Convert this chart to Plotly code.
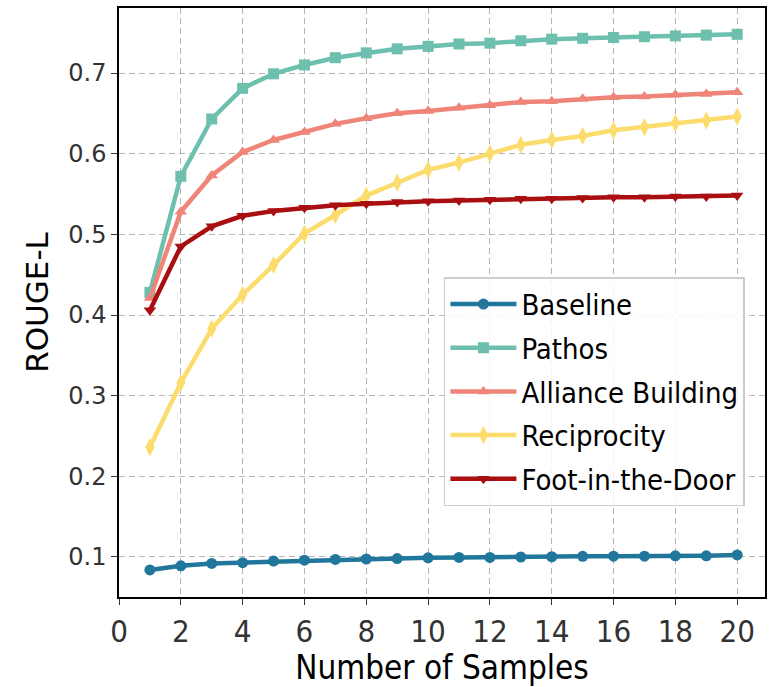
import plotly.graph_objects as go

x_samples = list(range(1, 21))

baseline = [0.084, 0.089, 0.092, 0.093, 0.095, 0.096, 0.097, 0.0975, 0.098, 0.099,
            0.0995, 0.0995, 0.100, 0.1003, 0.1008, 0.101, 0.101, 0.1015, 0.1015, 0.1025]
pathos = [0.428, 0.572, 0.643, 0.681, 0.699, 0.710, 0.719, 0.725, 0.730, 0.733,
          0.736, 0.737, 0.740, 0.742, 0.743, 0.744, 0.745, 0.746, 0.747, 0.748]
alliance = [0.421, 0.528, 0.573, 0.602, 0.617, 0.627, 0.637, 0.644, 0.650, 0.653,
            0.657, 0.660, 0.664, 0.665, 0.668, 0.670, 0.671, 0.673, 0.674, 0.676]
reciprocity = [0.236, 0.316, 0.383, 0.425, 0.462, 0.501, 0.524, 0.548, 0.564, 0.580,
               0.589, 0.600, 0.611, 0.617, 0.622, 0.629, 0.633, 0.638, 0.641, 0.646]
foot = [0.406, 0.485, 0.510, 0.523, 0.529, 0.533, 0.536, 0.538, 0.540, 0.541,
        0.542, 0.543, 0.544, 0.544, 0.545, 0.546, 0.546, 0.547, 0.547, 0.548]

series_names = ["Baseline", "Pathos", "Alliance Building", "Reciprocity", "Foot-in-the-Door"]
series_values = [baseline, pathos, alliance, reciprocity, foot]
colors = ["#21769b", "#6dbfae", "#ef8479", "#fcdc6d", "#a90f10"]
symbols = ["circle", "square", "triangle-up", "diamond-tall", "triangle-down"]
x_ticks = list(range(0, 21, 2))
y_ticks = [0.1, 0.2, 0.3, 0.4, 0.5, 0.6, 0.7]

COND = "DejaVu Sans Condensed, Liberation Sans Narrow, DejaVu Sans, sans-serif"
NORM = "DejaVu Sans, sans-serif"

fig = go.Figure()
for i, (name, vals, col, sym) in enumerate(zip(series_names, series_values, colors, symbols)):
    fig.add_trace(go.Scatter(
        x=x_samples, y=vals, name=name, mode="lines+markers",
        line=dict(color=col, width=4.5),
        marker=dict(symbol=sym, size=11 if sym != "diamond-tall" else 13, color=col),
        legendgroup=f"g{i}",
    ))

fig.update_layout(
    width=772, height=687,
    margin=dict(l=119, r=7, t=8, b=90),
    paper_bgcolor="white", plot_bgcolor="white",
    showlegend=True,
    legend=dict(
        x=0.503, y=0.543, xanchor="left", yanchor="top",
        bgcolor="rgba(255,255,255,0.85)", bordercolor="#cccccc", borderwidth=1.5,
        font=dict(family=COND, size=29, color="black"),
        itemwidth=66, tracegroupgap=3,
    ),
    xaxis=dict(
        range=[0, 20.9], tickvals=x_ticks, automargin=False,
        showline=True, mirror=True, linecolor="black", linewidth=1.5,
        ticks="outside", ticklen=6, tickwidth=1.2, tickcolor="#333",
        tickfont=dict(family=COND, size=31, color="#333"),
        showgrid=True, gridcolor="#b4b4b4", gridwidth=1.2, griddash="6px,4px",
        zeroline=False,
        title=dict(text="Number of Samples", font=dict(family=COND, size=33, color="black"), standoff=5),
    ),
    yaxis=dict(
        range=[0.0504, 0.7806], tickvals=y_ticks, tickformat=".1f", automargin=False,
        showline=True, mirror=True, linecolor="black", linewidth=1.5,
        ticks="outside", ticklen=6, tickwidth=1.2, tickcolor="#333",
        tickfont=dict(family=NORM, size=24, color="#333"),
        showgrid=True, gridcolor="#b4b4b4", gridwidth=1.2, griddash="6px,4px",
        zeroline=False,
        title=dict(text="ROUGE-L", font=dict(family=NORM, size=31, color="black"), standoff=10),
    ),
)

fig.write_html("out.html", config={"displayModeBar": False},
               post_script="document.body.style.margin='0';")
